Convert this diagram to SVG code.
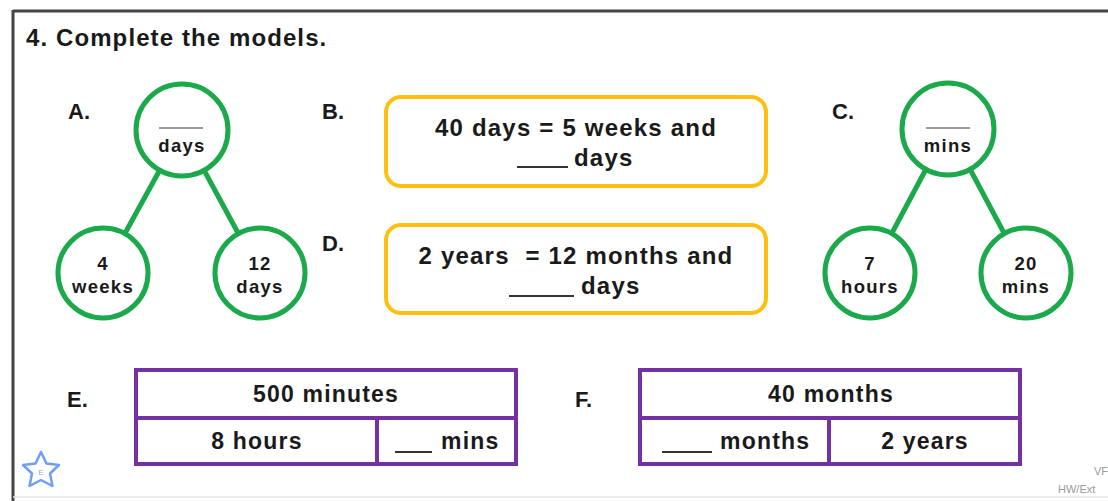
<svg xmlns="http://www.w3.org/2000/svg" width="1108" height="501" viewBox="0 0 1108 501">
<style>
  text { font-family: "Liberation Sans", Arial, sans-serif; font-weight: bold; fill: #1a1a1a; }
  .lbl { font-size: 22px; }
  .title { font-size: 24px; letter-spacing: 1.1px; }
  .ct { font-size: 18.5px; text-anchor: middle; letter-spacing: 1.3px; }
  .bt { font-size: 24px; text-anchor: middle; letter-spacing: 1.2px; }
  .bs { font-size: 24px; letter-spacing: 1.2px; }
  .tt { font-size: 23px; text-anchor: middle; letter-spacing: 1.2px; }
  .ts { font-size: 23px; letter-spacing: 1.2px; }
  .circ { fill: #ffffff; stroke: #1BA94C; stroke-width: 5; }
  .link { stroke: #1BA94C; stroke-width: 5; fill: none; }
  .box { fill: #ffffff; stroke: #FDC010; stroke-width: 4; }
  .cell { fill: #ffffff; stroke: #7431A4; stroke-width: 4; }
  .blank { stroke: #9a9a9a; stroke-width: 2; }
  .uline { stroke: #333333; stroke-width: 2; }
  .small { font-size: 11px; font-weight: normal; fill: #9a9a9a; }
</style>
<rect x="0" y="0" width="1108" height="501" fill="#ffffff"/>
<line x1="13" y1="11" x2="1108" y2="11" stroke="#444" stroke-width="3"/>
<line x1="13" y1="10" x2="13" y2="501" stroke="#444" stroke-width="3"/>
<line x1="13" y1="497" x2="1108" y2="497" stroke="#e6e6e6" stroke-width="1.5"/>
<text class="title" x="26" y="46">4. Complete the models.</text>

<g id="connectors">
  <line class="link" x1="158.7" y1="172" x2="125.7" y2="232"/>
  <line class="link" x1="205" y1="172" x2="237.5" y2="232"/>
  <line class="link" x1="925" y1="171" x2="892.5" y2="232"/>
  <line class="link" x1="971" y1="171" x2="1003.5" y2="232"/>
</g>

<g id="labelA"><text class="lbl" x="68" y="119">A.</text></g>
<g id="nodeA-top">
  <circle class="circ" cx="182" cy="130" r="46"/>
  <line class="blank" x1="159" y1="128" x2="203" y2="128"/>
  <text class="ct" x="182" y="152">days</text>
</g>
<g id="nodeA-left">
  <circle class="circ" cx="103" cy="273" r="45"/>
  <text class="ct" x="103" y="270">4</text>
  <text class="ct" x="103" y="293">weeks</text>
</g>
<g id="nodeA-right">
  <circle class="circ" cx="260" cy="273" r="45"/>
  <text class="ct" x="260" y="270">12</text>
  <text class="ct" x="260" y="293">days</text>
</g>

<g id="labelB"><text class="lbl" x="322" y="119">B.</text></g>
<g id="nodeB">
  <rect class="box" x="386" y="97" width="380" height="89" rx="15"/>
  <text class="bt" x="576" y="136">40 days = 5 weeks and</text>
  <line class="uline" x1="517" y1="167" x2="568" y2="167"/>
  <text class="bs" x="574" y="166">days</text>
</g>

<g id="labelD"><text class="lbl" x="322" y="251">D.</text></g>
<g id="nodeD">
  <rect class="box" x="386" y="225" width="380" height="88" rx="15"/>
  <text class="bt" x="576" y="264" xml:space="preserve">2 years  = 12 months and</text>
  <line class="uline" x1="509" y1="296" x2="574" y2="296"/>
  <text class="bs" x="581" y="294">days</text>
</g>

<g id="labelC"><text class="lbl" x="832" y="119">C.</text></g>
<g id="nodeC-top">
  <circle class="circ" cx="948" cy="129" r="46"/>
  <line class="blank" x1="926" y1="128" x2="970" y2="128"/>
  <text class="ct" x="948" y="152">mins</text>
</g>
<g id="nodeC-left">
  <circle class="circ" cx="870" cy="273" r="45"/>
  <text class="ct" x="870" y="270">7</text>
  <text class="ct" x="870" y="293">hours</text>
</g>
<g id="nodeC-right">
  <circle class="circ" cx="1026" cy="273" r="45"/>
  <text class="ct" x="1026" y="270">20</text>
  <text class="ct" x="1026" y="293">mins</text>
</g>

<g id="labelE"><text class="lbl" x="67" y="407">E.</text></g>
<g id="tableE">
  <rect class="cell" x="136" y="370" width="380" height="48"/>
  <rect class="cell" x="136" y="418" width="241" height="46"/>
  <rect class="cell" x="377" y="418" width="139" height="46"/>
  <text class="tt" x="326" y="402">500 minutes</text>
  <text class="tt" x="257" y="449">8 hours</text>
  <line class="uline" x1="395" y1="452" x2="432" y2="452"/>
  <text class="ts" x="441" y="449">mins</text>
</g>

<g id="labelF"><text class="lbl" x="575" y="407">F.</text></g>
<g id="tableF">
  <rect class="cell" x="640" y="370" width="380" height="48"/>
  <rect class="cell" x="640" y="418" width="189" height="46"/>
  <rect class="cell" x="829" y="418" width="191" height="46"/>
  <text class="tt" x="831" y="402">40 months</text>
  <line class="uline" x1="662" y1="452" x2="712" y2="452"/>
  <text class="ts" x="720" y="449">months</text>
  <text class="tt" x="925" y="449">2 years</text>
</g>

<g id="star">
  <polygon points="41,452 46.5,463.5 59,465 50,473.5 52.5,486 41,480 29.5,486 32,473.5 23,465 35.5,463.5" fill="#ffffff" stroke="#6E9EF5" stroke-width="2.5" stroke-linejoin="round"/>
  <text x="41" y="475" font-size="8" text-anchor="middle" style="fill:#9aa8f0;font-weight:normal">E</text>
</g>
<text class="small" x="1094" y="475">VF</text>
<text class="small" x="1058" y="493">HW/Ext</text>
</svg>
